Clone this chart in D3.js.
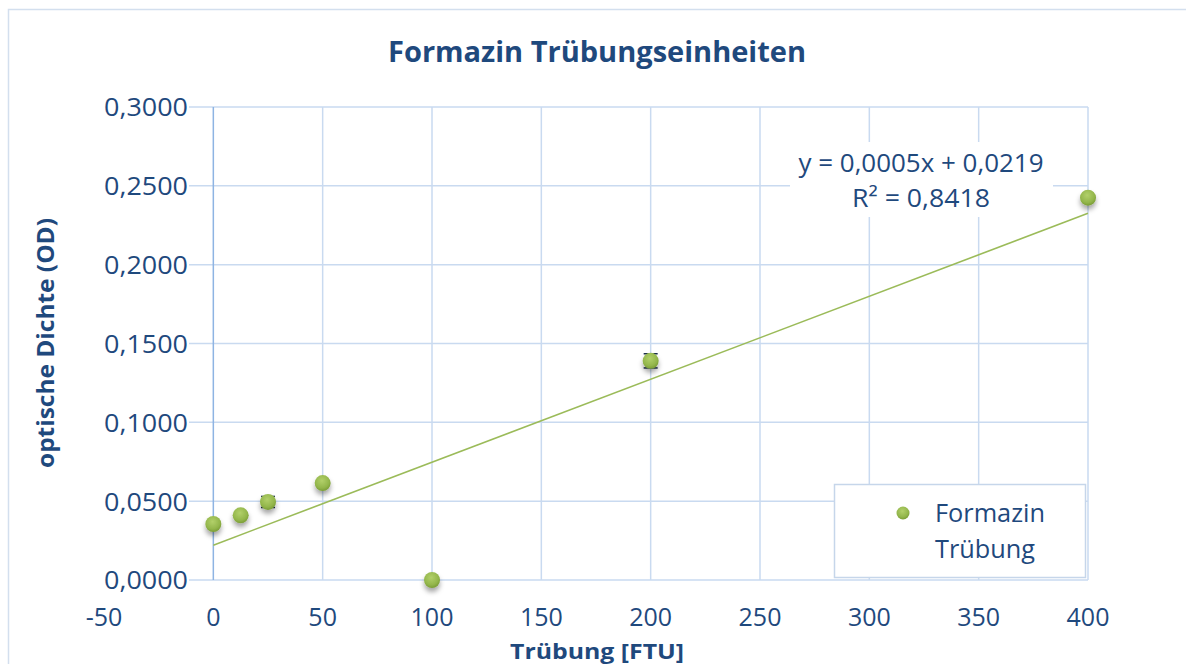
<!DOCTYPE html>
<html><head><meta charset="utf-8">
<script src="https://cdn.jsdelivr.net/npm/d3@7"></script>
<style>
html,body{margin:0;padding:0;background:#fff;}
svg{display:block;font-family:"Open Sans",sans-serif;}
</style></head><body>
<svg id="chart" width="1186" height="664"></svg>
<script>
// ---- data ----
const turbidity = [0, 12.5, 25, 50, 100, 200, 400];
const opticalDensity = [0.0355, 0.0410, 0.0495, 0.0615, 0.0000, 0.1390, 0.2425];
const errors = [0, 0, 0.0035, 0, 0, 0.0045, 0];
const xTicks = [-50, 0, 50, 100, 150, 200, 250, 300, 350, 400];
const yTicks = [0, 0.05, 0.10, 0.15, 0.20, 0.25, 0.30];
const seriesName = ["Formazin", "Trübung"];
const titleText = "Formazin Trübungseinheiten";
const xTitle = "Trübung [FTU]";
const yTitle = "optische Dichte (OD)";
const eqText = ["y = 0,0005x + 0,0219", "R² = 0,8418"];

const svg = d3.select("#chart");
const navy = "#1f497d";
const grid = "#c9daf0";
const green = "#9bbb59";

const x = d3.scaleLinear().domain([-50, 400]).range([104, 1088]);
const y = d3.scaleLinear().domain([0, 0.3]).range([580, 107]);
const fmt = v => v.toFixed(4).replace(".", ",");

const defs = svg.append("defs");
const rg = defs.append("radialGradient").attr("id","mg").attr("cx","45%").attr("cy","35%").attr("r","65%");
rg.append("stop").attr("offset","0%").attr("stop-color","#b2d06a");
rg.append("stop").attr("offset","70%").attr("stop-color","#93b64b");
rg.append("stop").attr("offset","100%").attr("stop-color","#7a9c36");
const f = defs.append("filter").attr("id","sh").attr("x","-100%").attr("y","-100%").attr("width","300%").attr("height","300%");
f.append("feDropShadow").attr("dx",0).attr("dy",4).attr("stdDeviation",2.5).attr("flood-color","#000").attr("flood-opacity",0.35);

// outer border
svg.append("rect").attr("x",8.5).attr("y",9.5).attr("width",1190).attr("height",670)
  .attr("fill","none").attr("stroke","#d3dfee").attr("stroke-width",1.5);

// gridlines
svg.append("g").selectAll("line").data(yTicks).join("line")
  .attr("x1", x(-50)).attr("x2", x(400)).attr("y1", d=>y(d)).attr("y2", d=>y(d))
  .attr("stroke", grid).attr("stroke-width", 1.5);
svg.append("g").selectAll("line").data(xTicks.filter(d=>d!==-50 && d!==0)).join("line")
  .attr("x1", d=>x(d)).attr("x2", d=>x(d)).attr("y1", y(0.3)).attr("y2", y(0))
  .attr("stroke", grid).attr("stroke-width", 1.5);
// y axis at x=0
svg.append("line").attr("x1",x(0)).attr("x2",x(0)).attr("y1",y(0.3)).attr("y2",y(0))
  .attr("stroke","#8eb4e3").attr("stroke-width",1.5);

// y tick labels with white background
const yl = svg.append("g");
yTicks.forEach(t=>{
  yl.append("rect").attr("x",100).attr("y",y(t)-13).attr("width",89).attr("height",26).attr("fill","#fff");
  yl.append("text").attr("x",188).attr("y",y(t)).attr("dy","0.36em").attr("text-anchor","end")
    .attr("font-size",26).attr("fill",navy).attr("textLength",84).attr("lengthAdjust","spacingAndGlyphs").text(fmt(t));
});
// x tick labels
svg.append("g").selectAll("text").data(xTicks).join("text")
  .attr("x", d=>x(d)).attr("y", 626).attr("text-anchor","middle")
  .attr("font-size",25).attr("fill",navy).text(d=>d);

// trendline via least squares
const n = turbidity.length;
const mx = d3.mean(turbidity), my = d3.mean(opticalDensity);
let sxy=0, sxx=0;
for(let i=0;i<n;i++){ sxy+=(turbidity[i]-mx)*(opticalDensity[i]-my); sxx+=(turbidity[i]-mx)**2; }
const slope = sxy/sxx, icpt = my - slope*mx;
svg.append("line").attr("x1",x(0)).attr("y1",y(icpt)).attr("x2",x(400)).attr("y2",y(icpt+slope*400))
  .attr("stroke",green).attr("stroke-width",1.6);

// equation box
svg.append("rect").attr("x",790).attr("y",142).attr("width",263).attr("height",75).attr("fill","#fff");
svg.append("text").attr("x",921).attr("y",172).attr("text-anchor","middle").attr("font-size",25).attr("fill",navy)
  .attr("textLength",245).attr("lengthAdjust","spacingAndGlyphs").text(eqText[0]);
svg.append("text").attr("x",921).attr("y",207).attr("text-anchor","middle").attr("font-size",25).attr("fill",navy)
  .attr("textLength",138).attr("lengthAdjust","spacingAndGlyphs").text(eqText[1]);

// error bars
const eb = svg.append("g").attr("stroke","#1c2f4a").attr("stroke-width",1.5);
turbidity.forEach((t,i)=>{
  if(!errors[i]) return;
  const cx=x(t), y1=y(opticalDensity[i]+errors[i]), y2=y(opticalDensity[i]-errors[i]);
  eb.append("line").attr("x1",cx).attr("x2",cx).attr("y1",y1).attr("y2",y2);
  eb.append("line").attr("x1",cx-7).attr("x2",cx+7).attr("y1",y1).attr("y2",y1);
  eb.append("line").attr("x1",cx-7).attr("x2",cx+7).attr("y1",y2).attr("y2",y2);
});

// markers
svg.append("g").selectAll("circle").data(turbidity).join("circle")
  .attr("cx", d=>x(d)).attr("cy", (d,i)=>y(opticalDensity[i])).attr("r",8)
  .attr("fill","url(#mg)").attr("filter","url(#sh)");

// legend
svg.append("rect").attr("x",834.5).attr("y",484.5).attr("width",251).attr("height",93)
  .attr("fill","#fff").attr("stroke","#c6d6ea").attr("stroke-width",1.5);
svg.append("circle").attr("cx",903).attr("cy",513).attr("r",6.5).attr("fill","url(#mg)");
svg.append("text").attr("x",935).attr("y",522).attr("font-size",26).attr("fill",navy)
  .attr("textLength",110).attr("lengthAdjust","spacingAndGlyphs").text(seriesName[0]);
svg.append("text").attr("x",935).attr("y",558).attr("font-size",26).attr("fill",navy)
  .attr("textLength",100).attr("lengthAdjust","spacingAndGlyphs").text(seriesName[1]);

// titles
svg.append("text").attr("x",597).attr("y",62).attr("text-anchor","middle").attr("font-size",29)
  .attr("font-weight","bold").attr("fill",navy).attr("textLength",418).attr("lengthAdjust","spacingAndGlyphs").text(titleText);
svg.append("text").attr("x",597).attr("y",659).attr("text-anchor","middle").attr("font-size",22)
  .attr("font-weight","bold").attr("fill",navy).attr("textLength",174).attr("lengthAdjust","spacingAndGlyphs").text(xTitle);
svg.append("text").attr("transform","translate(54,343) rotate(-90)").attr("text-anchor","middle").attr("font-size",24)
  .attr("font-weight","bold").attr("fill",navy).attr("textLength",250).attr("lengthAdjust","spacingAndGlyphs").text(yTitle);
</script>
</body></html>
